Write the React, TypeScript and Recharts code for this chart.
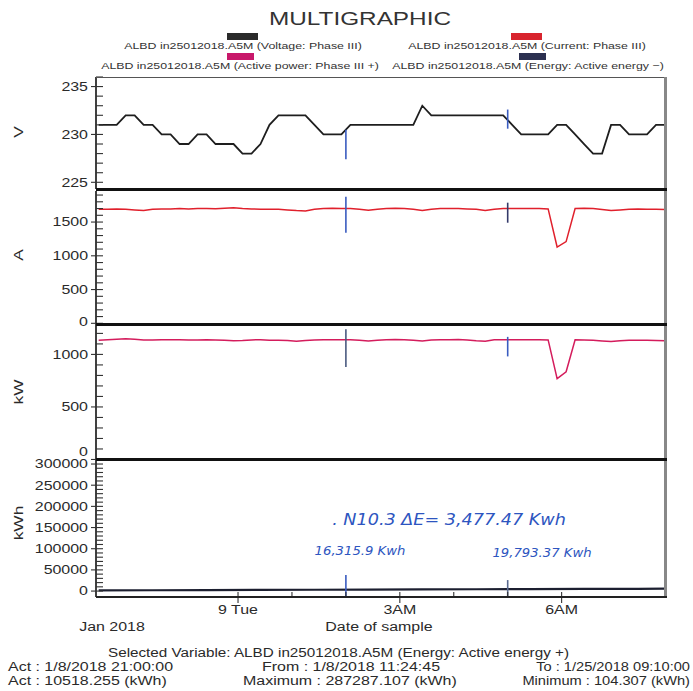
import React from 'react'
import { LineChart, Line, XAxis, YAxis, ReferenceLine } from 'recharts'

// sample times, minutes from 00:00 on Tue 9 Jan (logger writes every 10 min)
const TIMES = [
  -155, -145, -135, -125, -115, -105, -95, -85, -75, -65,
  -55, -45, -35, -25, -15, -5, 5, 15, 25, 35,
  45, 55, 65, 75, 85, 95, 105, 115, 125, 135,
  145, 155, 165, 175, 185, 195, 205, 215, 225, 235,
  245, 255, 265, 275, 285, 295, 305, 315, 325, 335,
  345, 355, 365, 375, 385, 395, 405, 415, 425, 435,
  445, 455, 465, 475,
]

const VOLTAGE = [
  231, 231, 231, 232, 232, 231, 231, 230, 230, 229,
  229, 230, 230, 229, 229, 229, 228, 228, 229, 231,
  232, 232, 232, 232, 231, 230, 230, 230, 231, 231,
  231, 231, 231, 231, 231, 231, 233, 232, 232, 232,
  232, 232, 232, 232, 232, 232, 231, 230, 230, 230,
  230, 231, 231, 230, 229, 228, 228, 231, 231, 230,
  230, 230, 231, 231,
]

const CURRENT = [
  1690, 1690, 1695, 1690, 1680, 1672, 1688, 1695, 1695, 1700,
  1695, 1700, 1700, 1698, 1705, 1712, 1700, 1695, 1690, 1688,
  1690, 1680, 1670, 1665, 1690, 1700, 1705, 1700, 1700, 1690,
  1675, 1690, 1700, 1705, 1700, 1690, 1672, 1690, 1700, 1700,
  1700, 1695, 1690, 1672, 1690, 1700, 1700, 1700, 1700, 1700,
  1695, 1130, 1210, 1700, 1705, 1700, 1685, 1672, 1680, 1690,
  1695, 1690, 1690, 1685,
]

const POWER = [
  1135, 1140, 1145, 1148, 1145, 1138, 1138, 1140, 1140, 1140,
  1138, 1138, 1140, 1138, 1135, 1130, 1133, 1138, 1140, 1135,
  1135, 1132, 1125, 1132, 1138, 1140, 1140, 1140, 1140, 1135,
  1128, 1135, 1140, 1142, 1140, 1135, 1128, 1138, 1140, 1140,
  1142, 1138, 1130, 1125, 1140, 1140, 1140, 1140, 1140, 1140,
  1138, 770, 835, 1140, 1138, 1135, 1128, 1122, 1130, 1135,
  1135, 1135, 1132, 1130,
]

// energy trace sits just above the zero line on this scale
const ENERGY_TIMES = [-155, -95, -35, 25, 85, 145, 205, 265, 325, 385, 445, 475]
const ENERGY = [1500, 1900, 2300, 2700, 3100, 3500, 3900, 4300, 4700, 5000, 5400, 5600]

// cursor readings at 2AM and 5AM
const CURSOR_TIMES = [120, 300]

const X_TICKS = [0, 60, 120, 180, 240, 300, 360]
const X_LABELS = ['9 Tue', '', '', '3AM', '', '', '6AM']

const V_TICKS = [225, 226, 227, 228, 229, 230, 231, 232, 233, 234, 235, 236]
const A_TICKS = Array.from({ length: 20 }, (_, i) => i * 100)
const KW_TICKS = Array.from({ length: 13 }, (_, i) => i * 100)
const KWH_TICKS = Array.from({ length: 31 }, (_, i) => i * 10000)

const rows = TIMES.map((t, i) => ({ t, v: VOLTAGE[i], a: CURRENT[i], p: POWER[i] }))
const energyRows = ENERGY_TIMES.map((t, i) => ({ t, e: ENERGY[i] }))

const W = 693
const PLOT_LEFT = 96
const PLOT_RIGHT = 665
const X_DOMAIN: [number, number] = [-158, 475]
const PAD = 10
const FONT = '"Liberation Sans", Arial, sans-serif'
const SX = 1.33

const makeYTick = (every: number, zeroLift = 0) => (props: any) => {
  const { x, y, payload } = props
  const v = payload.value
  const major = v % every === 0
  const ty = v === 0 ? y - zeroLift : y
  return (
    <g>
      <line x1={major ? x - 5 : x} x2={x + 7} y1={y} y2={y} stroke="#333" strokeWidth={1.1} />
      {major && (
        <text
          transform={`translate(${x - 8} ${ty}) scale(${SX} 1)`}
          textAnchor="end"
          dy="0.36em"
          fontSize={12}
          fontFamily={FONT}
          fill="#2a2a2a"
        >
          {v}
        </text>
      )}
    </g>
  )
}

const XTick = (props: any) => {
  const { x, y, payload } = props
  const label = X_LABELS[X_TICKS.indexOf(payload.value)]
  return (
    <g>
      <line x1={x} x2={x} y1={y - 5} y2={label ? y + 6 : y} stroke="#333" strokeWidth={1.1} />
      {label && (
        <text
          transform={`translate(${x} ${y + 13}) scale(${SX} 1)`}
          textAnchor="middle"
          dy="0.36em"
          fontSize={12}
          fontFamily={FONT}
          fill="#2a2a2a"
        >
          {label}
        </text>
      )}
    </g>
  )
}

type Cursor = { y1: number; y2: number; color: string }

type PanelProps = {
  top: number
  plotHeight: number
  domain: [number, number]
  ticks: number[]
  every: number
  zeroLift?: number
  data: any[]
  dataKey: string
  color: string
  strokeWidth: number
  cursors: Cursor[]
  showX?: boolean
}

function Panel({ top, plotHeight, domain, ticks, every, zeroLift = 0, data, dataKey, color, strokeWidth, cursors, showX }: PanelProps) {
  const axisH = showX ? 40 : 0
  return (
    <div style={{ position: 'absolute', left: 0, top: top - PAD }}>
      <LineChart
        width={W}
        height={plotHeight + PAD * 2 + axisH}
        data={data}
        margin={{ top: PAD, right: W - PLOT_RIGHT, bottom: PAD, left: PLOT_LEFT - 60 }}
      >
        <XAxis
          type="number"
          dataKey="t"
          domain={X_DOMAIN}
          allowDataOverflow
          hide={!showX}
          height={axisH}
          ticks={X_TICKS}
          interval={0}
          tick={<XTick />}
          tickSize={0}
          tickMargin={0}
          axisLine={false}
        />
        <YAxis
          type="number"
          domain={domain}
          allowDataOverflow
          ticks={ticks}
          interval={0}
          width={60}
          tick={makeYTick(every, zeroLift)}
          tickSize={0}
          tickMargin={0}
          axisLine={{ stroke: '#111', strokeWidth: 1.6 }}
        />
        <Line
          type="linear"
          dataKey={dataKey}
          stroke={color}
          strokeWidth={strokeWidth}
          dot={false}
          isAnimationActive={false}
        />
        {cursors.map((c, i) => (
          <ReferenceLine
            key={i}
            segment={[{ x: CURSOR_TIMES[i], y: c.y1 }, { x: CURSOR_TIMES[i], y: c.y2 }]}
            stroke={c.color}
            strokeWidth={1.6}
            ifOverflow="visible"
          />
        ))}
      </LineChart>
    </div>
  )
}

function Txt({ x, y, anchor = 'start', size = 12, sx = SX, color = '#2a2a2a', rotate = false, italic = false, family = FONT, children }: any) {
  let transform = `translateY(-50%) scaleX(${sx})`
  let origin = 'left center'
  if (rotate) {
    transform = `translate(-50%,-50%) rotate(-90deg) scaleX(${sx})`
    origin = 'center center'
  } else if (anchor === 'middle') {
    transform = `translate(-50%,-50%) scaleX(${sx})`
    origin = 'center center'
  } else if (anchor === 'end') {
    transform = `translate(-100%,-50%) scaleX(${sx})`
    origin = 'right center'
  }
  return (
    <div
      style={{
        position: 'absolute', left: x, top: y, transform, transformOrigin: origin,
        fontSize: size, lineHeight: 1, whiteSpace: 'nowrap', color,
        fontStyle: italic ? 'italic' : 'normal', fontFamily: family,
      }}
    >
      {children}
    </div>
  )
}

const Bar = ({ x, y, w, h, c }: any) => (
  <div style={{ position: 'absolute', left: x, top: y, width: w, height: h, background: c }} />
)

export default function App() {
  return (
    <div style={{ position: 'absolute', left: 0, top: 0, width: W, height: 691, background: '#fff', fontFamily: FONT, overflow: 'hidden' }}>
      <Txt x={360} y={18} anchor="middle" size={19} sx={1.28} color="#333">MULTIGRAPHIC</Txt>

      <Bar x={227} y={33} w={31} h={7} c="#2a2a2a" />
      <Bar x={511} y={33} w={31} h={7} c="#d8242e" />
      <Bar x={227} y={53} w={27} h={7} c="#c8186a" />
      <Bar x={519} y={53} w={27} h={7} c="#2c3050" />
      <Txt x={243} y={46} anchor="middle" size={9.5} sx={1.3} color="#333">ALBD in25012018.A5M (Voltage: Phase III)</Txt>
      <Txt x={527} y={46} anchor="middle" size={9.5} sx={1.3} color="#333">ALBD in25012018.A5M (Current: Phase III)</Txt>
      <Txt x={240} y={66} anchor="middle" size={9.5} sx={1.3} color="#333">ALBD in25012018.A5M (Active power: Phase III +)</Txt>
      <Txt x={528} y={66} anchor="middle" size={9.5} sx={1.3} color="#333">ALBD in25012018.A5M (Energy: Active energy −)</Txt>

      <Txt x={18} y={132} rotate size={13}>V</Txt>
      <Txt x={18} y={255} rotate size={13}>A</Txt>
      <Txt x={18} y={392} rotate size={13}>kW</Txt>
      <Txt x={18} y={523} rotate size={13}>kWh</Txt>

      <Panel
        top={77} plotHeight={112} domain={[224.3, 236]} ticks={V_TICKS} every={5}
        data={rows} dataKey="v" color="#1e1e1e" strokeWidth={1.8}
        cursors={[{ y1: 230.5, y2: 227.4, color: '#3a5cc0' }, { y1: 232.6, y2: 230.6, color: '#3a5cc0' }]}
      />
      <Panel
        top={191} plotHeight={134} domain={[-25, 1960]} ticks={A_TICKS} every={500} zeroLift={2}
        data={rows} dataKey="a" color="#e0202c" strokeWidth={1.5}
        cursors={[{ y1: 1876, y2: 1340, color: '#3a5cc0' }, { y1: 1787, y2: 1490, color: '#343a6a' }]}
      />
      <Panel
        top={325} plotHeight={135} domain={[-5, 1280]} ticks={KW_TICKS} every={500} zeroLift={8}
        data={rows} dataKey="p" color="#d41c5c" strokeWidth={1.5}
        cursors={[{ y1: 1240, y2: 880, color: '#4a5a80' }, { y1: 1167, y2: 981, color: '#3a5cc0' }]}
      />
      <Panel
        top={460} plotHeight={137} domain={[-14000, 309500]} ticks={KWH_TICKS} every={50000}
        data={energyRows} dataKey="e" color="#1c1f30" strokeWidth={2.2}
        cursors={[{ y1: 38000, y2: -12000, color: '#3a5cc0' }, { y1: 26000, y2: -14000, color: '#5a6a90' }]}
        showX
      />

      <Bar x={96} y={76.5} w={570} h={1} c="#555" />
      <Bar x={664} y={77} w={3} h={521} c="#888" />
      <Bar x={96} y={187.5} w={571} h={3} c="#111" />
      <Bar x={96} y={323} w={571} h={3} c="#111" />
      <Bar x={96} y={458} w={571} h={3} c="#111" />
      <Bar x={96} y={596} w={571} h={2} c="#222" />

      <Txt x={449} y={520} anchor="middle" size={16} sx={1.1} italic color="#2d55c0" family='"DejaVu Sans", sans-serif'>. N10.3 ΔE= 3,477.47 Kwh</Txt>
      <Txt x={360} y={551} anchor="middle" size={12} sx={1.1} italic color="#2d55c0" family='"DejaVu Sans", sans-serif'>16,315.9 Kwh</Txt>
      <Txt x={542} y={553} anchor="middle" size={12} sx={1.1} italic color="#2d55c0" family='"DejaVu Sans", sans-serif'>19,793.37 Kwh</Txt>

      <Txt x={112} y={627} anchor="middle">Jan 2018</Txt>
      <Txt x={379} y={627} anchor="middle">Date of sample</Txt>

      <Txt x={108} y={653} sx={1.27}>Selected Variable: ALBD in25012018.A5M (Energy: Active energy +)</Txt>
      <Txt x={8} y={667}>Act : 1/8/2018 21:00:00</Txt>
      <Txt x={262} y={667}>From : 1/8/2018 11:24:45</Txt>
      <Txt x={690} y={667} anchor="end" sx={1.22}>To : 1/25/2018 09:10:00</Txt>
      <Txt x={8} y={681}>Act : 10518.255 (kWh)</Txt>
      <Txt x={243} y={681}>Maximum : 287287.107 (kWh)</Txt>
      <Txt x={690} y={681} anchor="end" sx={1.22}>Minimum : 104.307 (kWh)</Txt>
    </div>
  )
}
